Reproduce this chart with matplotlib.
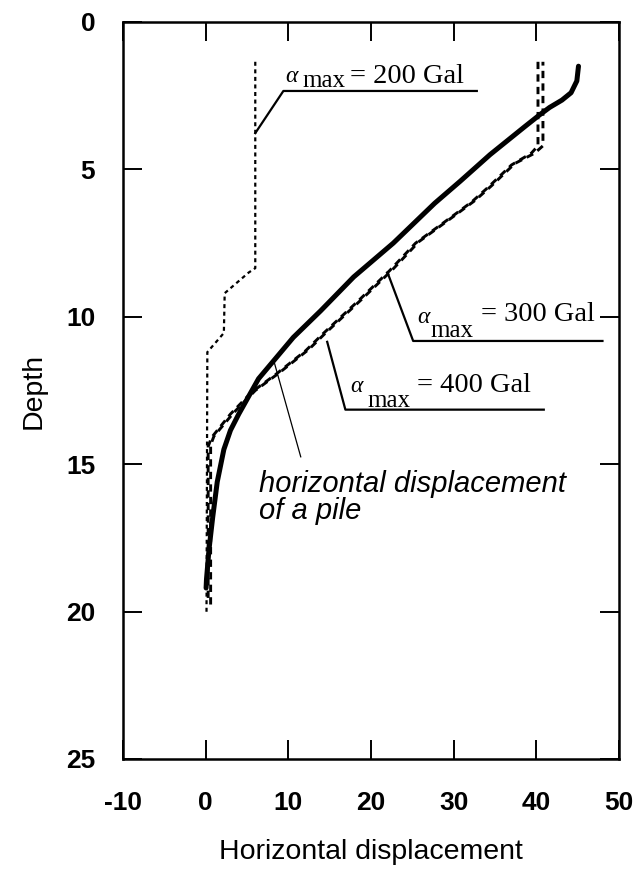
import matplotlib
matplotlib.use("Agg")
import matplotlib.pyplot as plt

# ---------------- data ----------------
# pile horizontal displacement (solid thick)
pile_disp = [45.1, 44.9, 44.2, 43.1, 41.6, 40.4, 38.6, 34.4, 30.8, 27.7, 22.7, 17.9,
             13.9, 10.6, 8.2, 6.4, 5.1, 4.0, 3.0, 2.2, 1.4, 0.85, 0.4, 0.1, 0.05]
pile_depth = [1.5, 2.0, 2.4, 2.65, 2.9, 3.15, 3.55, 4.5, 5.4, 6.15, 7.5, 8.65,
              9.8, 10.7, 11.5, 12.1, 12.75, 13.3, 13.85, 14.5, 15.6, 16.8, 17.9, 18.9, 19.2]

# ground displacement, alpha_max = 200 Gal (fine dotted)
g200_disp = [6.0, 6.0, 5.2, 2.3, 2.2, 0.2, 0.1]
g200_depth = [1.35, 8.35, 8.5, 9.2, 10.55, 11.2, 20.1]

# ground displacement, alpha_max = 300 Gal (dashed)
g300_disp = [40.2, 40.2, 39.4, 37.0, 34.2, 32.2, 29.8, 25.4, 22.2, 18.5, 14.1, 12.1,
             8.5, 5.6, 3.0, 0.7, 0.3, 0.3]
g300_depth = [1.35, 4.2, 4.45, 4.85, 5.6, 6.1, 6.6, 7.5, 8.45, 9.45, 10.6, 11.15,
              11.95, 12.55, 13.3, 14.1, 14.4, 19.7]

# ground displacement, alpha_max = 400 Gal (dashed)
g400_disp = [40.8, 40.8, 39.8, 37.4, 34.6, 32.6, 30.2, 25.8, 22.6, 18.9, 14.5, 12.5,
             8.9, 6.0, 3.4, 1.0, 0.6, 0.6]
g400_depth = [1.35, 4.2, 4.45, 4.8, 5.55, 6.05, 6.55, 7.45, 8.4, 9.4, 10.55, 11.1,
              11.9, 12.5, 13.25, 14.05, 14.35, 19.8]

# annotation leader lines
lead200_x = [6.0, 9.4, 32.8]
lead200_y = [3.77, 2.34, 2.34]
lead300_x = [22.0, 25.1, 48.0]
lead300_y = [8.5, 10.82, 10.82]
lead400_x = [14.7, 16.9, 40.9]
lead400_y = [10.85, 13.15, 13.15]
leadpile_x = [8.2, 11.5]
leadpile_y = [11.45, 14.75]

x_ticks = [-10, 0, 10, 20, 30, 40, 50]
y_ticks = [0, 5, 10, 15, 20, 25]

SANS = ["Liberation Sans", "DejaVu Sans"]
SERIF = ["Liberation Serif", "DejaVu Serif"]

fig = plt.figure(figsize=(6.39, 8.69), dpi=100)
ax = fig.add_axes([0.1925, 0.1266, 0.9687 - 0.1925, 0.9747 - 0.1266])

ax.plot(g200_disp, g200_depth, color="black", lw=1.6, linestyle=(0, (1.8, 1.6)))
ax.plot(g300_disp, g300_depth, color="black", lw=2.1, linestyle=(0, (2.5, 1.8)))
ax.plot(g400_disp, g400_depth, color="black", lw=2.1, linestyle=(1.2, (2.5, 1.8)))
ax.plot(pile_disp, pile_depth, color="black", lw=3.6, solid_capstyle="round",
        solid_joinstyle="round")

for lx, ly in [(lead200_x, lead200_y), (lead300_x, lead300_y), (lead400_x, lead400_y)]:
    ax.plot(lx, ly, color="black", lw=1.6, clip_on=False)
ax.plot(leadpile_x, leadpile_y, color="black", lw=0.9)

# alpha labels (serif)
labels = [
    (9.67, 2.03, 11.7, 2.2, 17.5, 2.07, "= 200 Gal"),
    (25.6, 10.2, 27.2, 10.7, 33.3, 10.15, "= 300 Gal"),
    (17.5, 12.55, 19.6, 13.05, 25.6, 12.55, "= 400 Gal"),
]
for ax_, ay_, mx_, my_, ex_, ey_, txt in labels:
    ax.text(ax_, ay_, "α", family=SERIF, style="italic", fontsize=17,
            ha="left", va="baseline")
    ax.text(mx_, my_, "max", family=SERIF, fontsize=18, ha="left", va="baseline")
    ax.text(ex_, ey_, txt, family=SERIF, fontsize=20.5, ha="left", va="baseline")

ax.text(6.4, 16.85, "horizontal displacement\nof a pile", family=SANS, style="italic",
        fontsize=21, ha="left", va="baseline", linespacing=0.92)

ax.set_xlim(-10, 50)
ax.set_ylim(25, 0)
ax.set_xticks(x_ticks)
ax.set_yticks(y_ticks)
ax.set_xticklabels([str(v) for v in x_ticks], family=SANS, fontsize=19, fontweight="bold")
ax.set_yticklabels([str(v) for v in y_ticks], family=SANS, fontsize=19, fontweight="bold")
ax.tick_params(axis="both", which="major", direction="in", length=14, width=1.4,
               top=True, right=True, labeltop=False, labelright=False)
ax.tick_params(axis="x", pad=23)
ax.tick_params(axis="y", pad=20)
for s in ax.spines.values():
    s.set_linewidth(1.8)

ax.set_xlabel("Horizontal displacement", family=SANS, fontsize=20.5, labelpad=17)
ax.set_ylabel("Depth", family=SANS, fontsize=20.5, labelpad=14)

fig.savefig("out.png", dpi=100)
